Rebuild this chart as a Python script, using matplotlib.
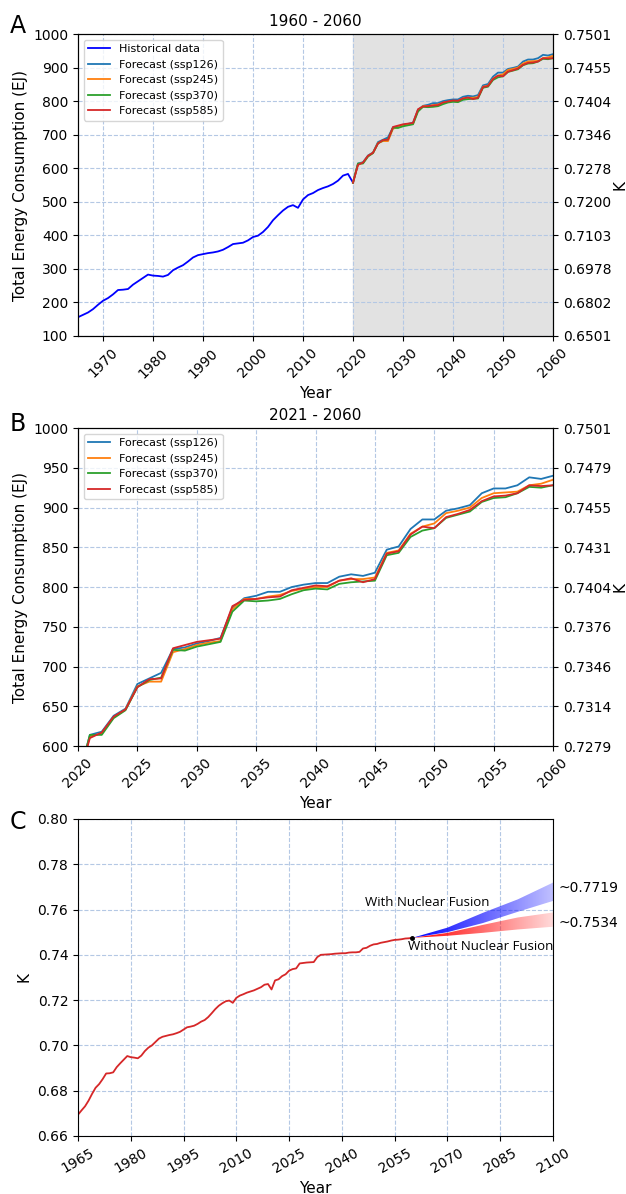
import numpy as np
import matplotlib
matplotlib.use('Agg')
import matplotlib.pyplot as plt

# --- data ---
hist_years = list(range(1965, 2021))
hist_ej = [156, 163, 170, 180, 193, 205, 213, 224, 237, 238,
           240, 253, 263, 273, 283, 280, 279, 277, 282, 296,
           304, 311, 322, 334, 341, 344, 347, 349, 352, 357,
           365, 374, 376, 378, 385, 395, 399, 410, 425, 445,
           460, 474, 485, 490, 482, 507, 520, 526, 535, 541,
           546, 553, 563, 578, 583, 557]

fc_years = list(range(2020, 2061))
ssp126 = [557, 614, 618, 638, 647, 678, 685, 692, 722, 724, 729, 732, 736, 774, 786,
          789, 794, 794, 800, 803, 805, 805, 813, 816, 814, 818, 847, 851, 873, 885,
          885, 896, 899, 903, 918, 924, 924, 928, 938, 936, 940]
ssp245 = [557, 612, 616, 636, 646, 675, 681, 681, 718, 722, 727, 730, 732, 772, 785,
          785, 788, 790, 795, 798, 800, 800, 808, 810, 810, 812, 843, 846, 867, 876,
          880, 893, 896, 900, 912, 918, 919, 920, 928, 930, 935]
ssp370 = [557, 614, 614, 635, 645, 674, 683, 686, 721, 720, 725, 728, 731, 769, 783,
          782, 783, 785, 791, 796, 798, 797, 804, 806, 807, 808, 840, 843, 863, 871,
          874, 887, 891, 895, 907, 912, 913, 918, 926, 925, 928]
ssp585 = [557, 610, 617, 637, 646, 674, 684, 685, 723, 727, 731, 733, 735, 776, 784,
          785, 787, 788, 796, 799, 802, 801, 808, 811, 806, 810, 842, 845, 866, 876,
          874, 888, 892, 897, 908, 914, 915, 918, 928, 927, 928]

k_years = list(range(1965, 2061))
k_values = [0.6694, 0.6713, 0.6731, 0.6756, 0.6786, 0.6813, 0.6829, 0.6851, 0.6876, 0.6877,
            0.6881, 0.6904, 0.6921, 0.6937, 0.6953, 0.6948, 0.6946, 0.6943, 0.6955, 0.6975,
            0.6990, 0.7000, 0.7015, 0.7030, 0.7038, 0.7042, 0.7046, 0.7049, 0.7054, 0.7060,
            0.7070, 0.7080, 0.7083, 0.7087, 0.7095, 0.7105, 0.7112, 0.7125, 0.7142, 0.7160,
            0.7175, 0.7186, 0.7195, 0.7198, 0.7188, 0.7210, 0.7220, 0.7226, 0.7233, 0.7238,
            0.7243, 0.7250, 0.7257, 0.7268, 0.7271, 0.7247, 0.7287, 0.7292, 0.7306, 0.7314,
            0.7330, 0.7337, 0.7340, 0.7362, 0.7364, 0.7366, 0.7367, 0.7368, 0.7390, 0.7400,
            0.7401, 0.7402, 0.7403, 0.7405, 0.7406, 0.7407, 0.7407, 0.7410, 0.7411, 0.7411,
            0.7413, 0.7428, 0.7431, 0.7440, 0.7446, 0.7448, 0.7453, 0.7456, 0.7459, 0.7463,
            0.7466, 0.7467, 0.7469, 0.7472, 0.7473, 0.7475]

fan_years = [2060, 2070, 2080, 2090, 2100]
fusion_low = [0.7475, 0.7500, 0.7540, 0.7590, 0.7638]
fusion_high = [0.7475, 0.7520, 0.7585, 0.7645, 0.7719]
nofusion_low = [0.7475, 0.7484, 0.7497, 0.7512, 0.7524]
nofusion_high = [0.7475, 0.7497, 0.7532, 0.7565, 0.7587]

a_yticks = [100, 200, 300, 400, 500, 600, 700, 800, 900, 1000]
a_klabels = ['0.6501', '0.6802', '0.6978', '0.7103', '0.7200', '0.7278',
             '0.7346', '0.7404', '0.7455', '0.7501']
b_yticks = [600, 650, 700, 750, 800, 850, 900, 950, 1000]
b_klabels = ['0.7279', '0.7314', '0.7346', '0.7376', '0.7404', '0.7431',
             '0.7455', '0.7479', '0.7501']

scen = [('Forecast (ssp126)', ssp126, 'tab:blue'),
        ('Forecast (ssp245)', ssp245, 'tab:orange'),
        ('Forecast (ssp370)', ssp370, 'tab:green'),
        ('Forecast (ssp585)', ssp585, 'tab:red')]

grid_kw = dict(color='#b4c8e4', linestyle='--', linewidth=0.8)

fig = plt.figure(figsize=(6.26, 11.94), dpi=100)

# ---------------- A ----------------
axA = fig.add_axes([0.1246, 0.7186, 0.7588, 0.2529])
axA.axvspan(2020, 2060, color='#e2e2e2', zorder=0)
axA.plot(hist_years, hist_ej, color='blue', lw=1.3, label='Historical data')
for lab, vals, col in scen:
    axA.plot(fc_years, vals, color=col, lw=1.3, label=lab)
axA.set_xlim(1965, 2060)
axA.set_ylim(100, 1000)
axA.set_yticks(a_yticks)
axA.set_xticks(range(1970, 2061, 10))
axA.tick_params(axis='x', rotation=45)
axA.grid(True, **grid_kw)
axA.set_xlabel('Year', fontsize=11)
axA.set_ylabel('Total Energy Consumption (EJ)', fontsize=11)
axA.set_title('1960 - 2060', fontsize=11)
axA.legend(loc='upper left', fontsize=8)
axA2 = axA.twinx()
axA2.set_ylim(100, 1000)
axA2.set_yticks(a_yticks)
axA2.set_yticklabels(a_klabels)
axA2.set_ylabel('K', fontsize=11)
axA2.yaxis.set_label_coords(1.125, 0.5)

# ---------------- B ----------------
axB = fig.add_axes([0.1246, 0.3752, 0.7588, 0.2663])
for lab, vals, col in scen:
    axB.plot(fc_years, vals, color=col, lw=1.3, label=lab)
axB.set_xlim(2020, 2060)
axB.set_ylim(600, 1000)
axB.set_yticks(b_yticks)
axB.set_xticks(range(2020, 2061, 5))
axB.tick_params(axis='x', rotation=45)
axB.grid(True, **grid_kw)
axB.set_xlabel('Year', fontsize=11)
axB.set_ylabel('Total Energy Consumption (EJ)', fontsize=11)
axB.set_title('2021 - 2060', fontsize=11)
axB.legend(loc='upper left', fontsize=8)
axB2 = axB.twinx()
axB2.set_ylim(600, 1000)
axB2.set_yticks(b_yticks)
axB2.set_yticklabels(b_klabels)
axB2.set_ylabel('K', fontsize=11)
axB2.yaxis.set_label_coords(1.125, 0.5)

# ---------------- C ----------------
axC = fig.add_axes([0.1246, 0.0486, 0.7588, 0.2655])
axC.plot(k_years, k_values, color='tab:red', lw=1.3)


def fan(ax, low, high, rgb, a_end):
    poly = ax.fill_between(fan_years, low, high, color='none', lw=0)
    img = np.zeros((2, 256, 4))
    img[..., :3] = rgb
    img[..., 3] = np.linspace(1.0, a_end, 256)
    im = ax.imshow(img, extent=[fan_years[0], fan_years[-1], min(low), max(high)],
                   aspect='auto', origin='lower', zorder=3, interpolation='bilinear')
    im.set_clip_path(poly.get_paths()[0], transform=ax.transData)


fan(axC, nofusion_low, nofusion_high, (1.0, 0.0, 0.0), 0.15)
fan(axC, fusion_low, fusion_high, (0.0, 0.0, 1.0), 0.25)
axC.plot(k_years[-1], k_values[-1], 'ko', ms=2.5, zorder=5)

axC.set_xlim(1965, 2100)
axC.set_ylim(0.66, 0.80)
axC.set_xticks(range(1965, 2101, 15))
axC.set_yticks(np.arange(0.66, 0.801, 0.02))
axC.tick_params(axis='x', rotation=30)
axC.grid(True, **grid_kw)
axC.set_xlabel('Year', fontsize=11)
axC.set_ylabel('K', fontsize=11)

axC.text(2046.5, 0.7629, 'With Nuclear Fusion', fontsize=9.5, family='Open Sans',
         va='center', ha='left', zorder=6)
axC.text(2058.8, 0.7435, 'Without Nuclear Fusion', fontsize=9.5, family='Open Sans',
         va='center', ha='left', zorder=6, clip_on=False)
axC.text(2101.5, 0.7695, '~%.4f' % fusion_high[-1], fontsize=10, va='center',
         ha='left', clip_on=False)
axC.text(2101.5, 0.7542, '~0.7534', fontsize=10, va='center', ha='left', clip_on=False)

fig.text(0.016, 0.988, 'A', fontsize=17, va='top')
fig.text(0.016, 0.655, 'B', fontsize=17, va='top')
fig.text(0.016, 0.322, 'C', fontsize=17, va='top')

fig.savefig('out.png', dpi=100)
